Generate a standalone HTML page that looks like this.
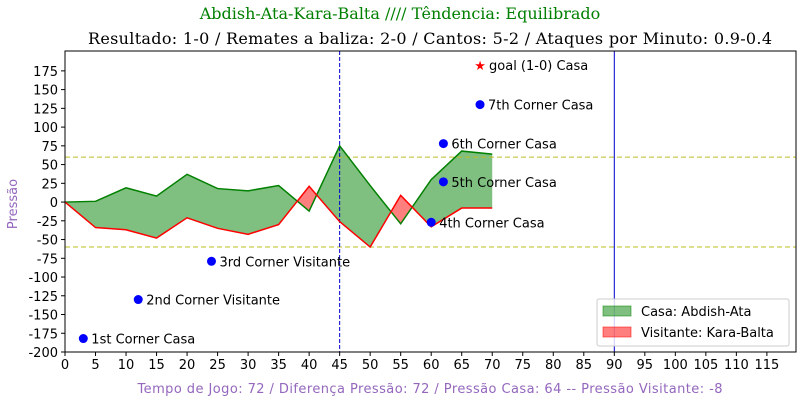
<!DOCTYPE html>
<html><head><meta charset="utf-8"><style>
body{margin:0;background:#fff;width:800px;height:400px;overflow:hidden}
svg text{font-family:"DejaVu Sans","Liberation Sans",sans-serif}
</style></head><body>
<svg id="c" width="800" height="400" xmlns="http://www.w3.org/2000/svg"></svg>
<script>
const xs=[0,5,10,15,20,25,30,35,40,45,50,55,60,65,70];
const casa=[0,1,19,8,37,18,15,22,-12,75,22,-29,30,68,64];
const visit=[0,-34,-37,-48,-21,-35,-43,-30,21,-26,-60,9,-33,-8,-8];
const evX=[3,12,24,60,62,62,68];
const evY=[-182,-130,-79,-27,27,78,130];
const evLabels=["1st Corner Casa","2nd Corner Visitante","3rd Corner Visitante","4th Corner Casa","5th Corner Casa","6th Corner Casa","7th Corner Casa"];
const goalX=[68], goalY=[183], goalLabels=["goal (1-0) Casa"];
const xTicks=[0,5,10,15,20,25,30,35,40,45,50,55,60,65,70,75,80,85,90,95,100,105,110,115];
const yTicks=[175,150,125,100,75,50,25,0,-25,-50,-75,-100,-125,-150,-175,-200];
const L=65,R=796,T=51,B=352,xmin=0,xmax=119.77,ymin=-200,ymax=201.5;
const X=v=>L+(v-xmin)/(xmax-xmin)*(R-L);
const Y=v=>B-(v-ymin)/(ymax-ymin)*(B-T);
const svg=document.getElementById('c');
const NS='http://www.w3.org/2000/svg';
function el(t,a,p){const e=document.createElementNS(NS,t);for(const k in a)e.setAttribute(k,a[k]);(p||svg).appendChild(e);return e;}
function fillPolys(){
  const gp=[],rp=[];
  for(let i=0;i<xs.length-1;i++){
    const x0=xs[i],x1=xs[i+1],a0=casa[i],a1=casa[i+1],b0=visit[i],b1=visit[i+1];
    const d0=a0-b0,d1=a1-b1;
    const seg=(xa,xb,ca,cb,va,vb,col)=>{
      (col==='green'?gp:rp).push(`M${X(xa)},${Y(ca)}L${X(xb)},${Y(cb)}L${X(xb)},${Y(vb)}L${X(xa)},${Y(va)}Z`);
    };
    if(d0*d1<0){
      const t=d0/(d0-d1),xc=x0+t*(x1-x0),yc=a0+t*(a1-a0);
      seg(x0,xc,a0,yc,b0,yc,d0>0?'green':'red');
      seg(xc,x1,yc,a1,yc,b1,d1>0?'green':'red');
    } else seg(x0,x1,a0,a1,b0,b1,(d0+d1)>=0?'green':'red');
  }
  const g=el('path',{d:gp.join(''),fill:'green','fill-opacity':0.5});
  
  
  const r=el('path',{d:rp.join(''),fill:'red','fill-opacity':0.5});
  
  
}
fillPolys();
[60,-60].forEach(v=>{const l=el('line',{x1:L,x2:R,y1:Y(v),y2:Y(v),stroke:'#bcbd22','stroke-width':1,'stroke-dasharray':'5,3'});});
let hl=el('line',{x1:X(45),x2:X(45),y1:T,y2:B,stroke:'#0000cc','stroke-width':1,'stroke-dasharray':'4,2'});
let fl=el('line',{x1:X(90),x2:X(90),y1:T,y2:B,stroke:'#0000cc','stroke-width':1});
let gl=el('polyline',{points:xs.map((x,i)=>X(x)+','+Y(casa[i])).join(' '),fill:'none',stroke:'green','stroke-width':1.5});
let rl=el('polyline',{points:xs.map((x,i)=>X(x)+','+Y(visit[i])).join(' '),fill:'none',stroke:'red','stroke-width':1.5});
evX.forEach((x,i)=>{
  const c=el('circle',{cx:X(x),cy:Y(evY[i]),r:4.5,fill:'blue'});
  const t=el('text',{x:X(x)+8,y:Y(evY[i])+5,'font-size':13});t.textContent=evLabels[i];
});
goalX.forEach((x,i)=>{
  const s=el('text',{x:X(x),y:Y(goalY[i])+5,'font-size':13,fill:'red','text-anchor':'middle'});s.textContent='★';
  const t=el('text',{x:X(x)+9,y:Y(goalY[i])+5,'font-size':13});t.textContent=goalLabels[i];
});
let fr=el('rect',{x:L,y:T,width:R-L,height:B-T,fill:'none',stroke:'#000','stroke-width':1});
xTicks.forEach(v=>{el('line',{x1:X(v),x2:X(v),y1:B,y2:B+4,stroke:'#000'});const t=el('text',{x:X(v),y:B+17,'font-size':13,'text-anchor':'middle'});t.textContent=v;});
yTicks.forEach(v=>{el('line',{x1:L-4,x2:L,y1:Y(v),y2:Y(v),stroke:'#000'});const t=el('text',{x:L-7,y:Y(v)+5,'font-size':13,'text-anchor':'end'});t.textContent=v;});
const lg=el('g',{});
el('rect',{x:597,y:299,width:192,height:47,rx:2,fill:'#fff','fill-opacity':0.8,stroke:'#ccc'},lg);
el('rect',{x:603,y:306,width:28,height:10,fill:'green','fill-opacity':0.5,stroke:'green','stroke-opacity':0.5},lg);
el('rect',{x:603,y:327,width:28,height:10,fill:'red','fill-opacity':0.5,stroke:'red','stroke-opacity':0.5},lg);
let t1=el('text',{x:641,y:316,'font-size':13},lg);t1.textContent='Casa: Abdish-Ata';
let t2=el('text',{x:641,y:337,'font-size':13},lg);t2.textContent='Visitante: Kara-Balta';
let a=el('text',{x:400,y:19,'font-size':16,fill:'green','text-anchor':'middle','style':'font-family:"DejaVu Serif","Liberation Serif",serif'});a.textContent='Abdish-Ata-Kara-Balta //// Têndencia: Equilibrado';
let b=el('text',{x:430,y:44,'font-size':16,fill:'#000','text-anchor':'middle','textLength':684,'style':'font-family:"DejaVu Serif","Liberation Serif",serif'});b.textContent='Resultado: 1-0 / Remates a baliza: 2-0 / Cantos: 5-2 / Ataques por Minuto: 0.9-0.4';
let xl=el('text',{x:430,y:393,'font-size':13,fill:'#9467bd','text-anchor':'middle','textLength':585});xl.textContent='Tempo de Jogo: 72 / Diferença Pressão: 72 / Pressão Casa: 64 -- Pressão Visitante: -8';
let yl=el('text',{x:17,y:204,'font-size':13,fill:'#9467bd','text-anchor':'middle',transform:'rotate(-90 17 204)'});yl.textContent='Pressão';
</script>
</body></html>
